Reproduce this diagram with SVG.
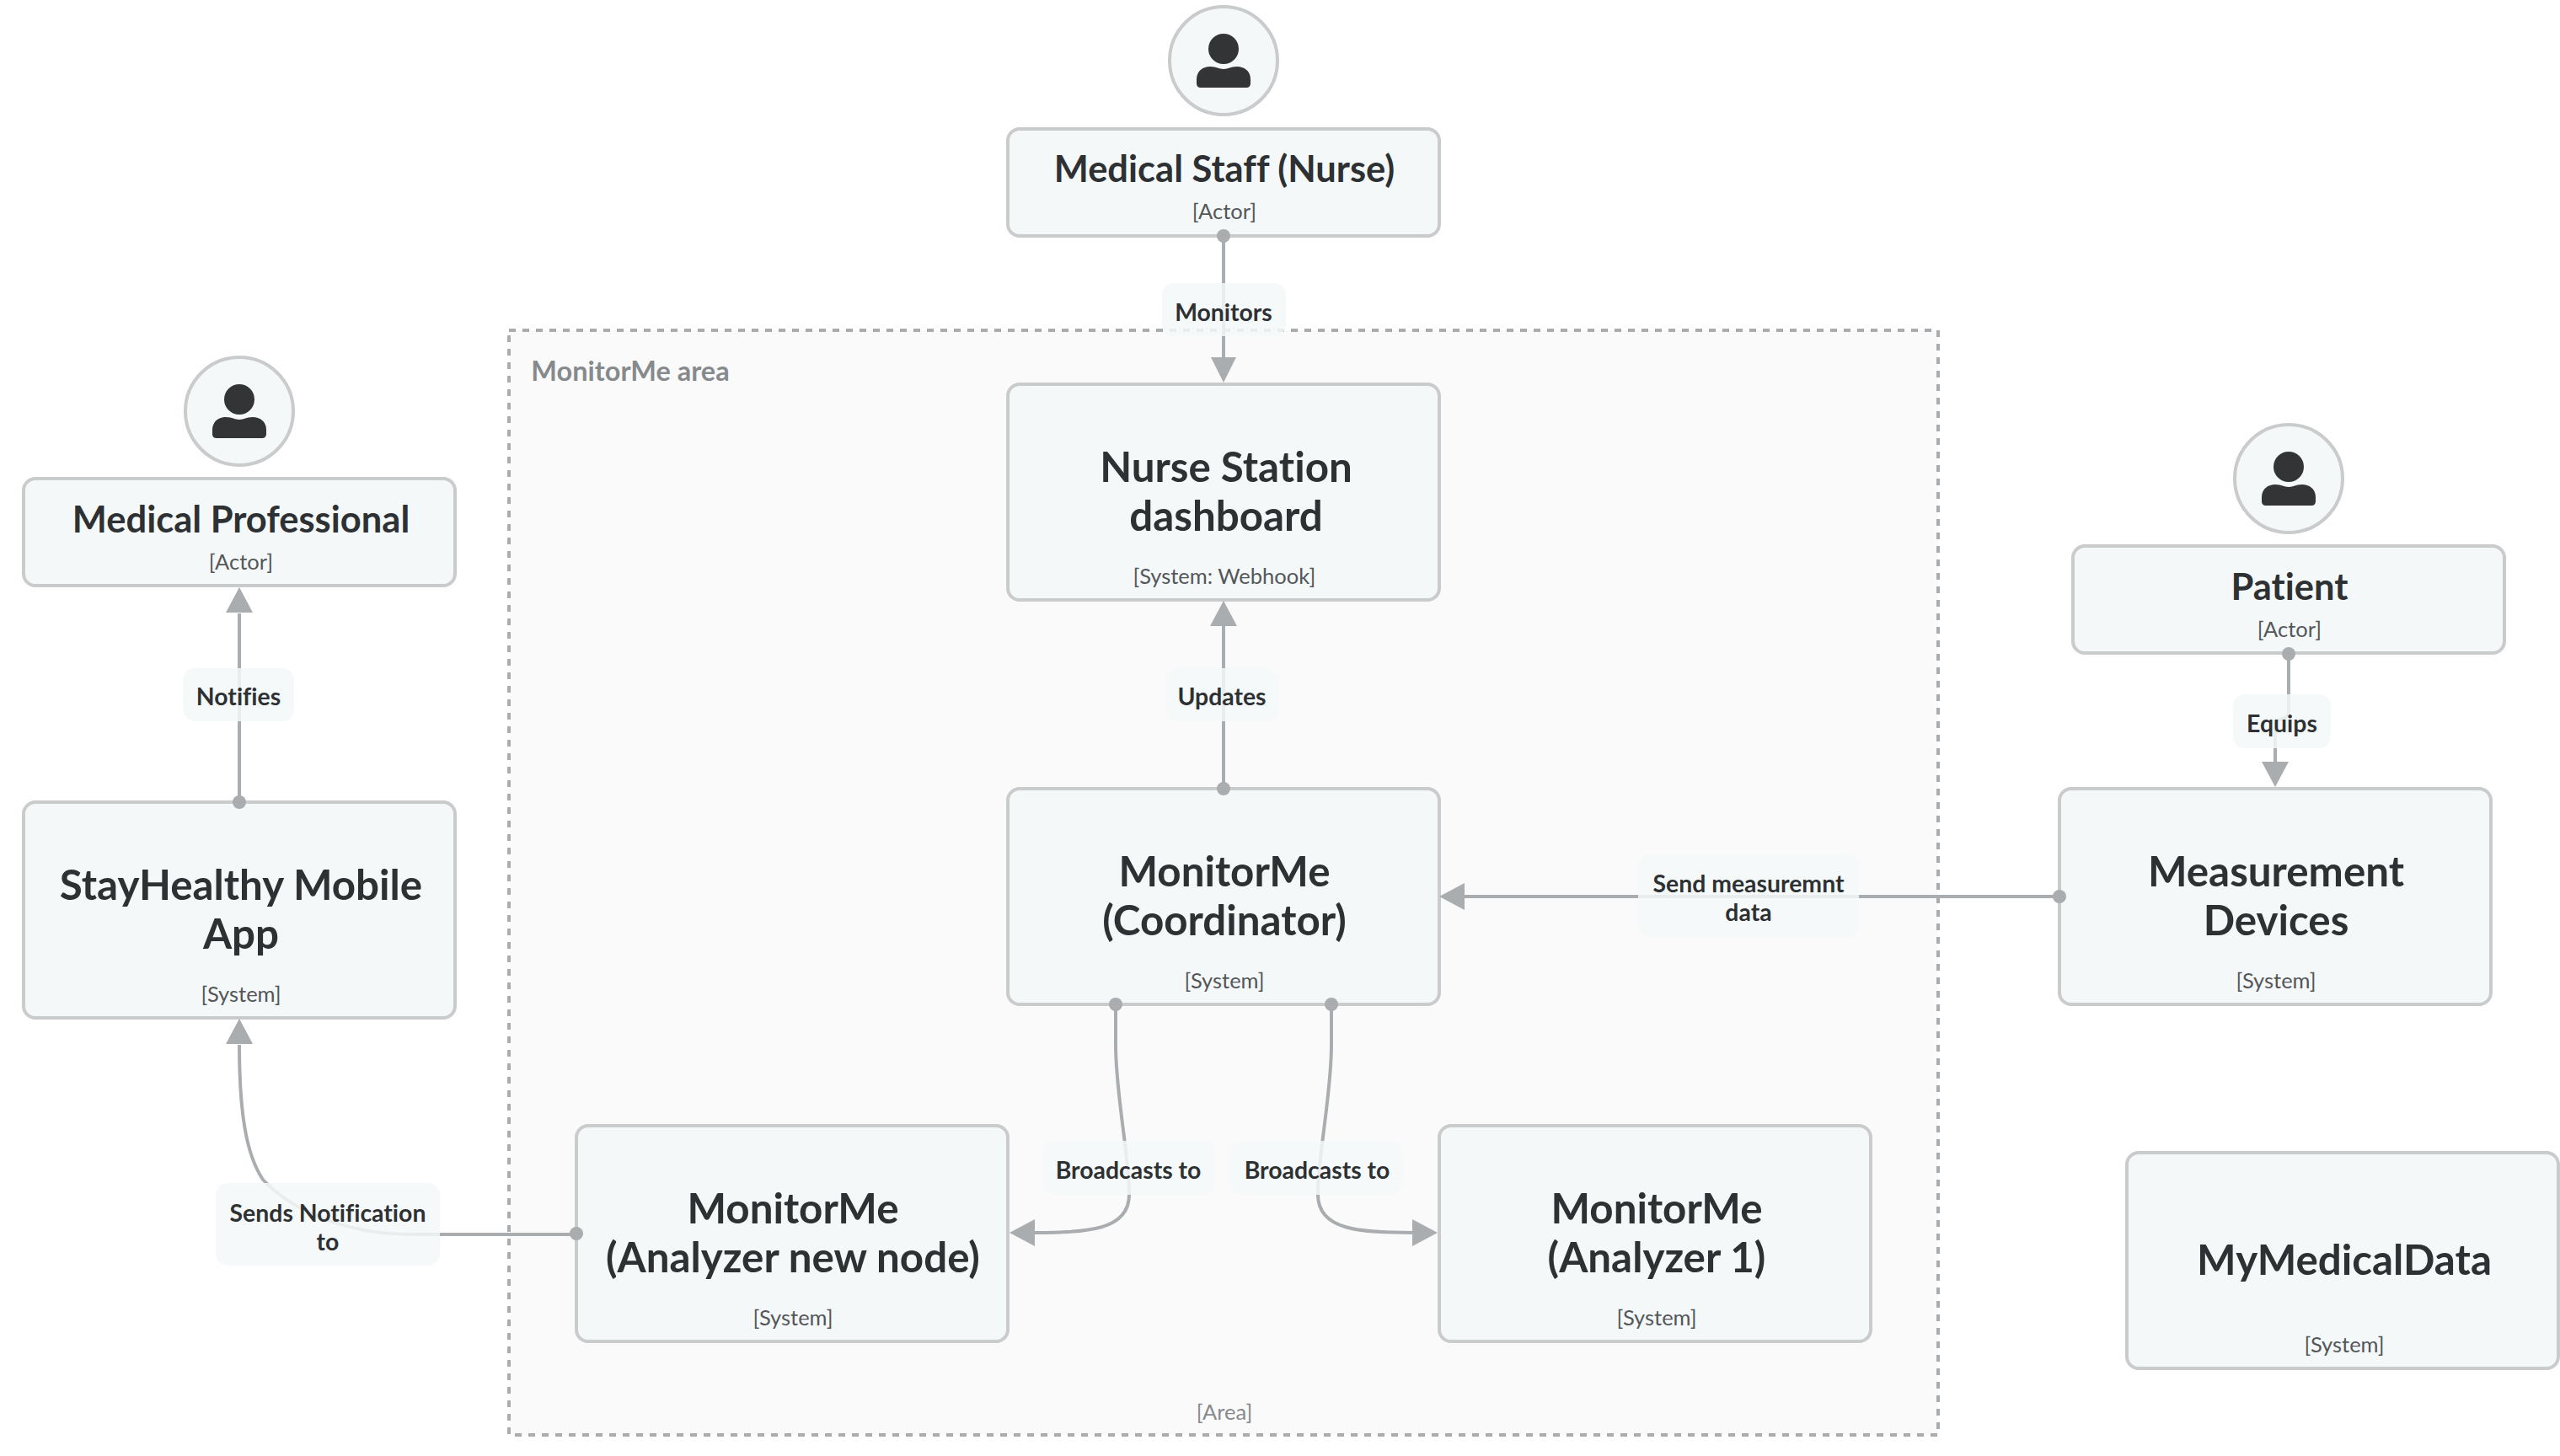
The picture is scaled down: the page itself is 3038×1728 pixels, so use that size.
<svg xmlns="http://www.w3.org/2000/svg" width="3038" height="1728" viewBox="0 0 3038 1728">
<style>
text{font-family:Lato,"Liberation Sans",sans-serif;text-anchor:middle;font-variant-ligatures:none}
.b{fill:#f5f8f9;stroke:#c9cbcd;stroke-width:4}
.t{font-size:43.5px;font-weight:700;fill:#2e3133}
.a{font-size:49.3px;font-weight:700;fill:#2e3133}
.s{font-size:25.5px;fill:#53575a}
.l{font-size:28.4px;font-weight:700;fill:#2e3133}
.lb{fill:#f5f8f9;opacity:.85}
.c{fill:none;stroke:#aaadb0;stroke-width:4}
.d{fill:#aaadb0}
.h{fill:#aaadb0}
.p{fill:#333436}
</style>
<defs>
<g id="person"><circle cx="0" cy="-14" r="18" class="p"/><path class="p" d="M-32 22C-32 12-24 7-16 7C-8 7-6 10 0 10C6 10 8 7 16 7C24 7 32 12 32 22V27Q32 32 27 32H-27Q-32 32-32 27Z"/></g>
</defs>
<rect width="3038" height="1728" fill="#fff"/>
<g id="area"><rect x="604" y="392" width="1696" height="1311" fill="#fafafa" stroke="#aaadb0" stroke-width="4" stroke-dasharray="8 8"/>
<text x="748" y="452" style="font-size:32.5px;font-weight:700;fill:#868a8d">MonitorMe area</text>
<text x="1453" y="1685" class="s" style="fill:#868a8d">[Area]</text></g>
<g id="medical-staff"><circle cx="1452" cy="72" r="64" class="b"/><use href="#person" x="1452" y="72"/><rect x="1196" y="153" width="512" height="127" rx="14" class="b"/><text x="1453" y="216" class="t">Medical Staff (Nurse)</text><text x="1453" y="260" class="s">[Actor]</text></g>
<g id="nurse-station"><rect x="1196" y="456" width="512" height="256" rx="14" class="b"/><text x="1455" y="572" class="a">Nurse Station</text><text x="1455" y="630" class="a">dashboard</text><text x="1453" y="693" class="s">[System: Webhook]</text></g>
<g id="coordinator"><rect x="1196" y="936" width="512" height="256" rx="14" class="b"/><text x="1453" y="1052" class="a">MonitorMe</text><text x="1453" y="1110" class="a">(Coordinator)</text><text x="1453" y="1173" class="s">[System]</text></g>
<g id="analyzer-new"><rect x="684" y="1336" width="512" height="256" rx="14" class="b"/><text x="941" y="1452" class="a">MonitorMe</text><text x="941" y="1510" class="a">(Analyzer new node)</text><text x="941" y="1573" class="s">[System]</text></g>
<g id="analyzer-1"><rect x="1708" y="1336" width="512" height="256" rx="14" class="b"/><text x="1966" y="1452" class="a">MonitorMe</text><text x="1966" y="1510" class="a">(Analyzer 1)</text><text x="1966" y="1573" class="s">[System]</text></g>
<g id="mymedicaldata"><rect x="2524" y="1368" width="512" height="256" rx="14" class="b"/><text x="2782" y="1513" class="a">MyMedicalData</text><text x="2782" y="1605" class="s">[System]</text></g>
<g id="measurement"><rect x="2444" y="936" width="512" height="256" rx="14" class="b"/><text x="2701" y="1052" class="a">Measurement</text><text x="2701" y="1110" class="a">Devices</text><text x="2701" y="1173" class="s">[System]</text></g>
<g id="patient"><circle cx="2716" cy="568" r="64" class="b"/><use href="#person" x="2716" y="568"/><rect x="2460" y="648" width="512" height="127" rx="14" class="b"/><text x="2717" y="712" class="t">Patient</text><text x="2717" y="756" class="s">[Actor]</text></g>
<g id="medical-professional"><circle cx="284" cy="488" r="64" class="b"/><use href="#person" x="284" y="488"/><rect x="28" y="568" width="512" height="127" rx="14" class="b"/><text x="286" y="632" class="t">Medical Professional</text><text x="286" y="676" class="s">[Actor]</text></g>
<g id="stayhealthy"><rect x="28" y="952" width="512" height="256" rx="14" class="b"/><text x="286" y="1068" class="a">StayHealthy Mobile</text><text x="286" y="1126" class="a">App</text><text x="286" y="1189" class="s">[System]</text></g>
<g id="connectors">
<path class="c" d="M1452 280V425"/><circle class="d" cx="1452" cy="280" r="8"/><path class="h" d="M1452 454L1437 424H1467Z"/>
<path class="c" d="M1452 936V742"/><circle class="d" cx="1452" cy="936" r="8"/><path class="h" d="M1452 713L1436 743H1468Z"/>
<path class="c" d="M284 952V728"/><circle class="d" cx="284" cy="952" r="8"/><path class="h" d="M284 697L268 727H300Z"/>
<path class="c" d="M2444 1064H1738"/><circle class="d" cx="2444" cy="1064" r="8"/><path class="h" d="M1708 1064L1738 1048V1080Z"/>
<path class="c" d="M2716 776V845Q2716 851 2708 853Q2700 855 2700 862V908"/><circle class="d" cx="2716" cy="776" r="8"/><path class="h" d="M2700 934L2684 904H2716Z"/>
<path class="c" d="M1324 1192V1240C1324 1300 1340 1370 1340 1418C1340 1460 1290 1463 1228 1463"/><circle class="d" cx="1324" cy="1192" r="8"/><path class="h" d="M1198 1463L1228 1447V1479Z"/>
<path class="c" d="M1580 1192V1240C1580 1300 1564 1370 1564 1418C1564 1460 1614 1463 1678 1463"/><circle class="d" cx="1580" cy="1192" r="8"/><path class="h" d="M1706 1463L1676 1447V1479Z"/>
<path class="c" d="M684 1465H490C400 1465 340 1430 312 1400C292 1370 284 1320 284 1240"/><circle class="d" cx="684" cy="1464" r="8"/><path class="h" d="M284 1209L268 1239H300Z"/>
</g>
<g id="edge-labels">
<rect class="lb" x="1379" y="336" width="147" height="63" rx="14"/><text class="l" x="1452" y="381">Monitors</text>
<rect class="lb" x="1384" y="793" width="133" height="63" rx="14"/><text class="l" x="1450" y="837">Updates</text>
<rect class="lb" x="217" y="793" width="132" height="63" rx="14"/><text class="l" x="283" y="837">Notifies</text>
<rect class="lb" x="2650" y="824" width="116" height="64" rx="14"/><text class="l" x="2708" y="869">Equips</text>
<rect class="lb" x="1944" y="1014" width="262" height="98" rx="14"/><text class="l" x="2075" y="1059">Send measuremnt</text><text class="l" x="2075" y="1093">data</text>
<rect class="lb" x="1237" y="1354" width="205" height="64" rx="14"/><text class="l" x="1339" y="1399">Broadcasts to</text>
<rect class="lb" x="1460" y="1354" width="205" height="64" rx="14"/><text class="l" x="1563" y="1399">Broadcasts to</text>
<rect class="lb" x="256" y="1404" width="266" height="98" rx="14"/><text class="l" x="389" y="1450">Sends Notification</text><text class="l" x="389" y="1484">to</text>
</g>
</svg>
